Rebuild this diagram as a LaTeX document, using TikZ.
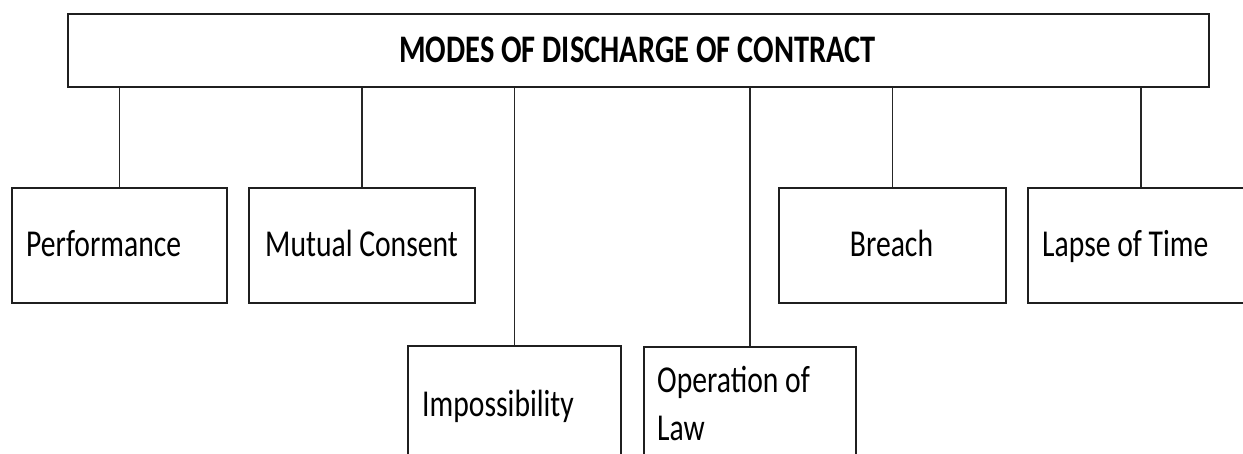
\documentclass[tikz,border=0pt]{standalone}
\usepackage{fontspec}
\newfontfamily\boxfont[FakeStretch=0.78]{Carlito}
\begin{document}
\begin{tikzpicture}[x=1pt,y=-1pt,
  frame/.style={draw=black!88,line width=2pt,inner sep=0pt,anchor=north west},
  link/.style={draw=black!85,line width=1.8pt},
  label/.style={inner sep=0pt,anchor=base west,font=\boxfont\fontsize{38}{47}\selectfont},
  heading/.style={inner sep=0pt,anchor=base,font=\boxfont\bfseries\fontsize{39}{47}\selectfont}]
\useasboundingbox (0,0) rectangle (1243,454);
\clip (0,0) rectangle (1243,454);
% root box
\node[frame,minimum width=1141pt,minimum height=73pt] (root) at (67,13) {};
\node[heading] (title) at (637.5,63) {MODES OF DISCHARGE OF CONTRACT};
% upper row of modes
\node[frame,minimum width=215pt,minimum height=115pt] (perf) at (11,187) {};
\node[frame,minimum width=226pt,minimum height=115pt] (mutual) at (248,187) {};
\node[frame,minimum width=227pt,minimum height=115pt] (breach) at (778,187) {};
\node[frame,minimum width=226pt,minimum height=115pt] (lapse) at (1027,187) {};
% lower row of modes
\node[frame,minimum width=213pt,minimum height=120pt] (imposs) at (407,345) {};
\node[frame,minimum width=212pt,minimum height=120pt] (oplaw) at (643,346) {};
% labels
\node[label] (tperf) at (26,257) {Performance};
\node[label] (tmutual) at (265,257) {Mutual Consent};
\node[label,anchor=base] (tbreach) at (891.5,257) {Breach};
\node[label] (tlapse) at (1042,257) {Lapse of Time};
\node[label] (timposs) at (422,417) {Impossibility};
\node[label] (toplaw1) at (657,392) {Operation of};
\node[label] (toplaw2) at (657,440) {Law};
% connectors from the root box
\foreach \c in {perf,mutual,imposs,oplaw,breach,lapse}
  \draw[link] (\c.north) -- (\c.north |- root.south);
\end{tikzpicture}
\end{document}
